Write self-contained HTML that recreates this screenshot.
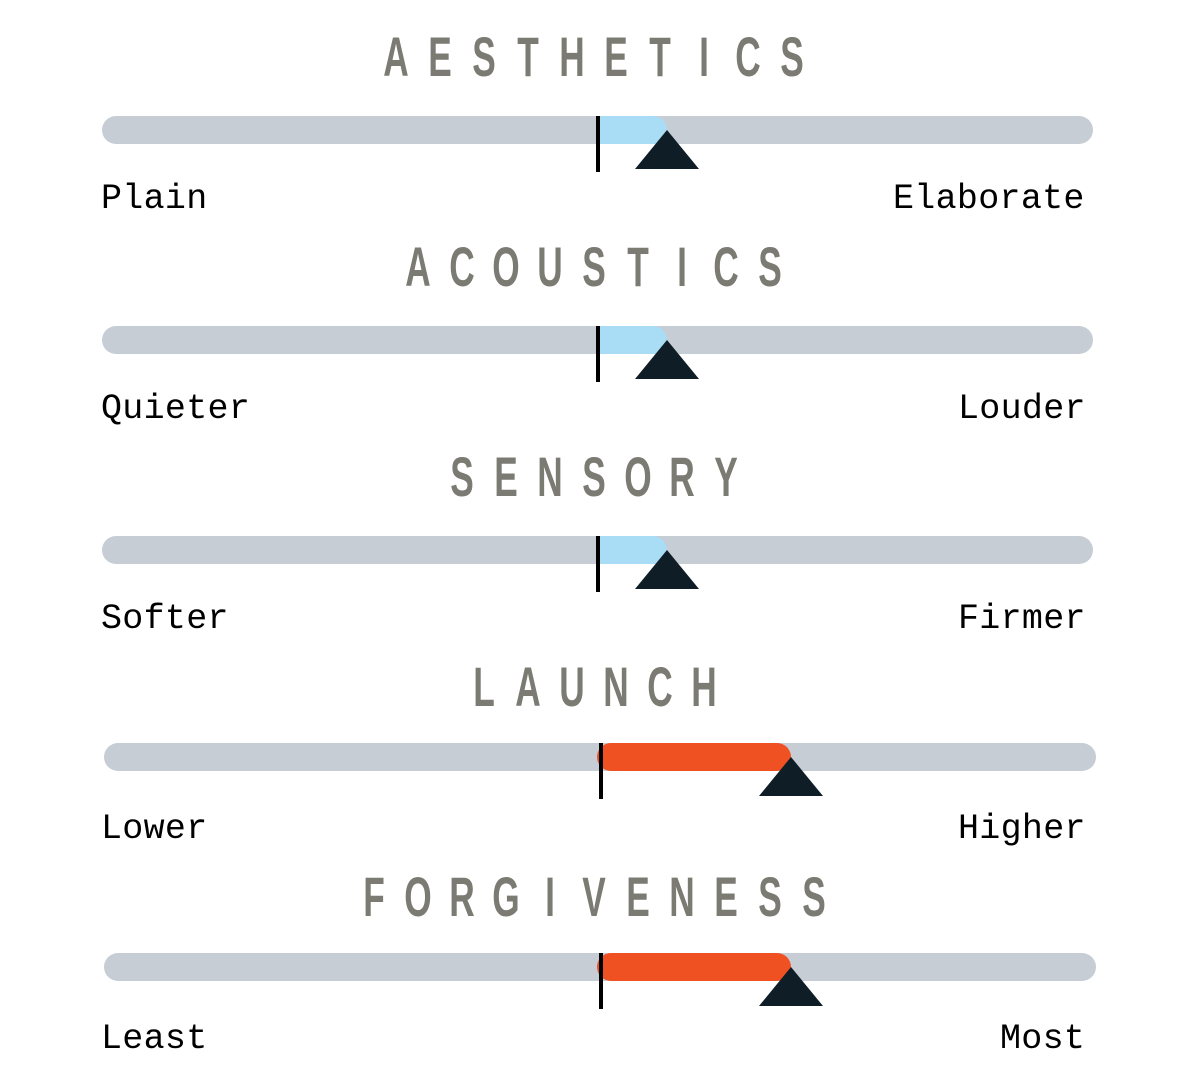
<!DOCTYPE html>
<html><head><meta charset="utf-8"><style>
body{margin:0;width:1200px;height:1085px;background:#fff;position:relative;overflow:hidden}
.t{position:absolute;left:0;width:1188px;display:flex;justify-content:center;height:60px}
.t span{display:inline-block;width:44px;text-align:center;font:bold 56px/56px "Liberation Sans",sans-serif;color:#7b7b73;transform:scaleX(0.63)}
.bar{position:absolute;height:28px;border-radius:14px;background:#c6cdd4}
.fill{position:absolute;height:28px;border-radius:0 14px 14px 0}
.tick{position:absolute;width:4px;height:56px;background:#000}
.tri{position:absolute;width:0;height:0;border-left:32px solid transparent;border-right:32px solid transparent;border-bottom:39px solid #0f1d26}
.l{position:absolute;font:35px/1 "Liberation Mono",monospace;color:#000;letter-spacing:0.3px}
</style></head><body>

<div class="t" style="top:29px"><span>A</span><span>E</span><span>S</span><span>T</span><span>H</span><span>E</span><span>T</span><span>I</span><span>C</span><span>S</span></div>
<div class="bar" style="left:102px;top:116px;width:991px"></div>
<div class="fill" style="left:599px;top:116px;width:68px;background:#a9dcf5"></div>
<div class="tick" style="left:596px;top:116px"></div>
<div class="tri" style="left:635px;top:130px"></div>
<div class="l" style="left:101px;top:182px">Plain</div>
<div class="l" style="left:893px;top:182px">Elaborate</div>

<div class="t" style="top:239px"><span>A</span><span>C</span><span>O</span><span>U</span><span>S</span><span>T</span><span>I</span><span>C</span><span>S</span></div>
<div class="bar" style="left:102px;top:326px;width:991px"></div>
<div class="fill" style="left:599px;top:326px;width:68px;background:#a9dcf5"></div>
<div class="tick" style="left:596px;top:326px"></div>
<div class="tri" style="left:635px;top:340px"></div>
<div class="l" style="left:101px;top:392px">Quieter</div>
<div class="l" style="left:958px;top:392px">Louder</div>

<div class="t" style="top:449px"><span>S</span><span>E</span><span>N</span><span>S</span><span>O</span><span>R</span><span>Y</span></div>
<div class="bar" style="left:102px;top:536px;width:991px"></div>
<div class="fill" style="left:599px;top:536px;width:68px;background:#a9dcf5"></div>
<div class="tick" style="left:596px;top:536px"></div>
<div class="tri" style="left:635px;top:550px"></div>
<div class="l" style="left:101px;top:602px">Softer</div>
<div class="l" style="left:958px;top:602px">Firmer</div>

<div class="t" style="top:659px"><span>L</span><span>A</span><span>U</span><span>N</span><span>C</span><span>H</span></div>
<div class="bar" style="left:104px;top:743px;width:992px"></div>
<div class="fill" style="left:597px;top:743px;width:194px;background:#f05123;border-radius:14px"></div>
<div class="tick" style="left:599px;top:743px"></div>
<div class="tri" style="left:759px;top:757px"></div>
<div class="l" style="left:101px;top:812px">Lower</div>
<div class="l" style="left:958px;top:812px">Higher</div>

<div class="t" style="top:869px"><span>F</span><span>O</span><span>R</span><span>G</span><span>I</span><span>V</span><span>E</span><span>N</span><span>E</span><span>S</span><span>S</span></div>
<div class="bar" style="left:104px;top:953px;width:992px"></div>
<div class="fill" style="left:597px;top:953px;width:194px;background:#f05123;border-radius:14px"></div>
<div class="tick" style="left:599px;top:953px"></div>
<div class="tri" style="left:759px;top:967px"></div>
<div class="l" style="left:101px;top:1022px">Least</div>
<div class="l" style="left:1000px;top:1022px">Most</div>

</body></html>
